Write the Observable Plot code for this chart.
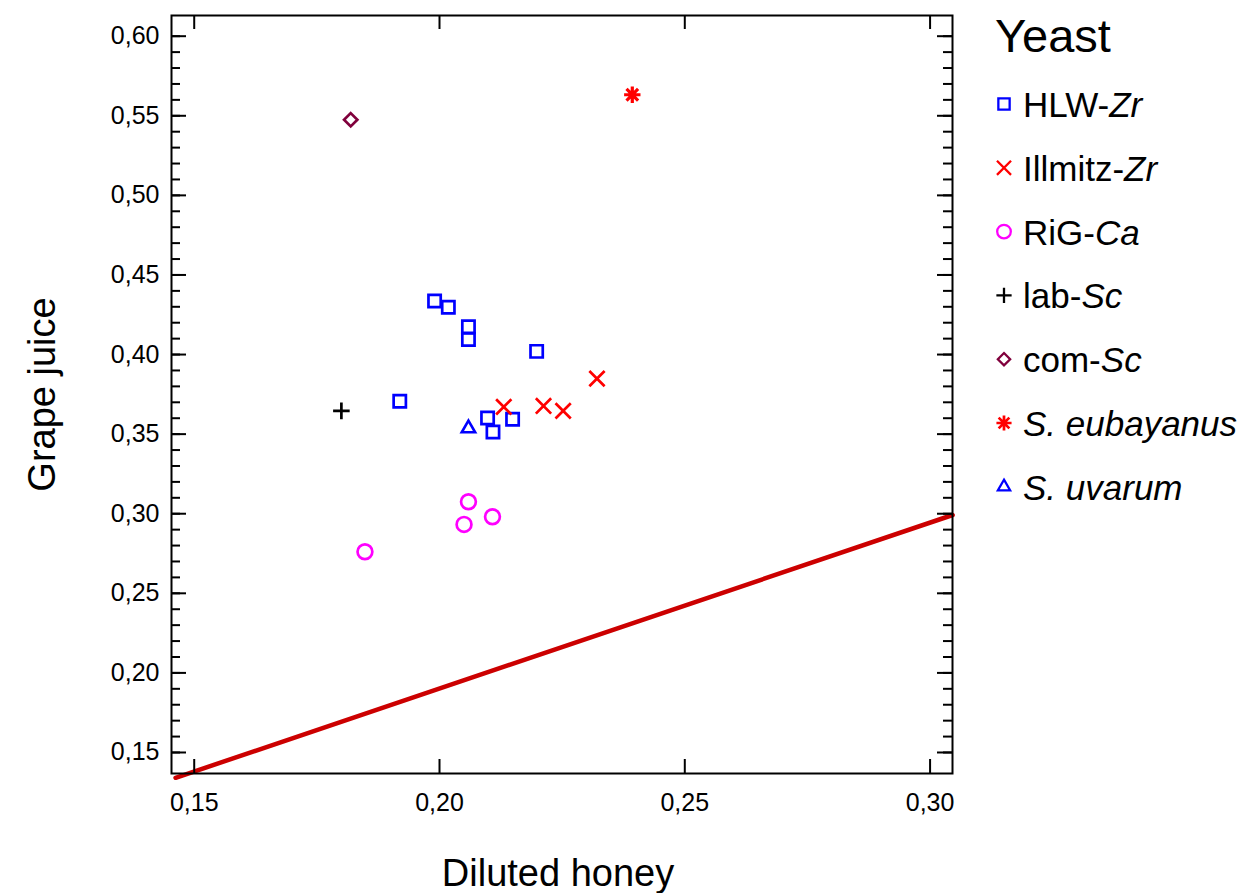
<!DOCTYPE html>
<html><head><meta charset="utf-8">
<script src="https://cdn.jsdelivr.net/npm/d3@7"></script>
<script src="https://cdn.jsdelivr.net/npm/@observablehq/plot@0.6"></script>
<style>
body{margin:0;background:#fff;font-family:"Liberation Sans",Arial,sans-serif}
#wrap{position:relative;width:1247px;height:893px;overflow:hidden}
#wrap svg.leg{position:absolute;left:0;top:0;pointer-events:none}
</style></head><body><div id="wrap"></div>
<script>
// ---- data ----
const yeastNames = ["HLW-Zr","Illmitz-Zr","RiG-Ca","lab-Sc","com-Sc","S. eubayanus","S. uvarum"];
const yeastColors = ["#0000ff","#ff0000","#ff00ff","#000000","#80003c","#ff0000","#0000ff"];
const hlwX = [0.1990,0.2018,0.2059,0.2059,0.2198,0.1919,0.2098,0.2109,0.2149];
const hlwY = [0.4337,0.4297,0.4175,0.4094,0.4020,0.3706,0.3601,0.3513,0.3593];
const illX = [0.2131,0.2212,0.2252,0.2321];
const illY = [0.3671,0.3677,0.3646,0.3849];
const rigX = [0.2059,0.2050,0.2108,0.1848];
const rigY = [0.3075,0.2933,0.2981,0.2761];
const labX = [0.1800];
const labY = [0.3646];
const comX = [0.1819];
const comY = [0.5475];
const eubX = [0.2393];
const eubY = [0.5632];
const uvaX = [0.2059];
const uvaY = [0.3536];
const lineX = [0.1462, 0.3046];
const lineY = [0.1341, 0.2992];
const xTicks = [0.15, 0.20, 0.25, 0.30];
const yTicks = [0.15,0.20,0.25,0.30,0.35,0.40,0.45,0.50,0.55,0.60];
const yMinor = d3.range(15, 61).map(v => v / 100);

// ---- layout ----
const W = 1247, H = 893, mL = 171, mR = 295, mT = 15, mB = 120;
const fw = W - mL - mR, fh = H - mT - mB;

const asterisk8 = {draw(ctx, size) {
  const r = Math.sqrt(size / Math.PI), d = r * Math.SQRT1_2;
  ctx.moveTo(0,-r); ctx.lineTo(0,r);
  ctx.moveTo(-r,0); ctx.lineTo(r,0);
  ctx.moveTo(-d,-d); ctx.lineTo(d,d);
  ctx.moveTo(-d,d); ctx.lineTo(d,-d);
}};
const symbols = [d3.symbolSquare2, d3.symbolTimes, d3.symbolCircle, d3.symbolPlus, d3.symbolDiamond2, asterisk8, d3.symbolTriangle2];
const radii = [7.8, 7.0, 7.4, 5.4, 6.0, 8.2, 6.4];
const strokes = [2.7, 2.7, 2.7, 2.7, 2.7, 3.2, 2.6];
const seriesX = [hlwX, illX, rigX, labX, comX, eubX, uvaX];
const seriesY = [hlwY, illY, rigY, labY, comY, eubY, uvaY];

const rows = [];
yeastNames.forEach((name, k) => seriesX[k].forEach((x, i) => rows.push({yeast: name, x, y: seriesY[k][i]})));
const lineRows = lineX.map((x, i) => ({x, y: lineY[i]}));

const fmt = d => d.toFixed(2).replace(".", ",");

const marks = [
  Plot.line(lineRows, {x: "x", y: "y", stroke: "#cc0000", strokeWidth: 4.5}),
  ...yeastNames.map((name, k) => Plot.dot(rows.filter(d => d.yeast === name), {
    x: "x", y: "y", symbol: () => symbols[k], r: radii[k], stroke: yeastColors[k], strokeWidth: strokes[k], fill: "none"
  })),
  // ticks (inward)
  Plot.ruleX(xTicks, {x: d => d, insetTop: fh - 14, strokeWidth: 2}),
  Plot.ruleX(xTicks, {x: d => d, insetBottom: fh - 14, strokeWidth: 2}),
  Plot.ruleY(yTicks, {y: d => d, insetRight: fw - 15, strokeWidth: 2}),
  Plot.ruleY(yTicks, {y: d => d, insetLeft: fw - 15, strokeWidth: 2}),
  Plot.ruleY(yMinor, {y: d => d, insetRight: fw - 9, strokeWidth: 2}),
  Plot.ruleY(yMinor, {y: d => d, insetLeft: fw - 9, strokeWidth: 2}),
  Plot.frame({stroke: "black", strokeWidth: 2}),
  Plot.axisX(xTicks, {tickSize: 0, tickPadding: 20, tickFormat: fmt, fontSize: 25, label: null}),
  Plot.axisY(yTicks, {tickSize: 0, tickPadding: 12, tickFormat: fmt, fontSize: 25, label: null}),
  Plot.text(["Diluted honey"], {text: d => d, frameAnchor: "bottom", dy: 100, fontSize: 38, lineAnchor: "middle", textAnchor: "middle", dx: -4}),
  Plot.text(["Grape juice"], {text: d => d, frameAnchor: "left", rotate: -90, dx: -129, fontSize: 38, lineAnchor: "middle", textAnchor: "middle"})
];

const chart = Plot.plot({
  width: W, height: H,
  marginLeft: mL, marginRight: mR, marginTop: mT, marginBottom: mB,
  x: {domain: [0.14537, 0.30457]},
  y: {domain: [0.1368, 0.6130]},
  style: {fontFamily: "Liberation Sans, Arial, sans-serif", fontSize: "25px", color: "black", background: "white", overflow: "visible"},
  marks
});
const wrap = document.getElementById("wrap");
wrap.appendChild(chart);

// ---- legend ----
const legendParts = [
  [["HLW-", false], ["Zr", true]],
  [["Illmitz-", false], ["Zr", true]],
  [["RiG-", false], ["Ca", true]],
  [["lab-", false], ["Sc", true]],
  [["com-", false], ["Sc", true]],
  [["S. eubayanus", true]],
  [["S. uvarum", true]]
];
const leg = d3.create("svg").attr("class", "leg").attr("width", W).attr("height", H)
  .style("font-family", "Liberation Sans, Arial, sans-serif");
leg.append("text").attr("x", 995).attr("y", 52).attr("font-size", 47).text("Yeast");
legendParts.forEach((parts, k) => {
  const base = 117 + k * 63.8;
  leg.append("path")
    .attr("transform", `translate(1004,${base - 13})`)
    .attr("d", d3.symbol(symbols[k], radii[k] * radii[k] * Math.PI * 0.85)())
    .attr("fill", "none").attr("stroke", yeastColors[k]).attr("stroke-width", strokes[k] * 0.85);
  const t = leg.append("text").attr("x", 1023).attr("y", base).attr("font-size", 35);
  parts.forEach(([s, it]) => t.append("tspan").attr("font-style", it ? "italic" : null).text(s));
});
wrap.appendChild(leg.node());
</script></body></html>
